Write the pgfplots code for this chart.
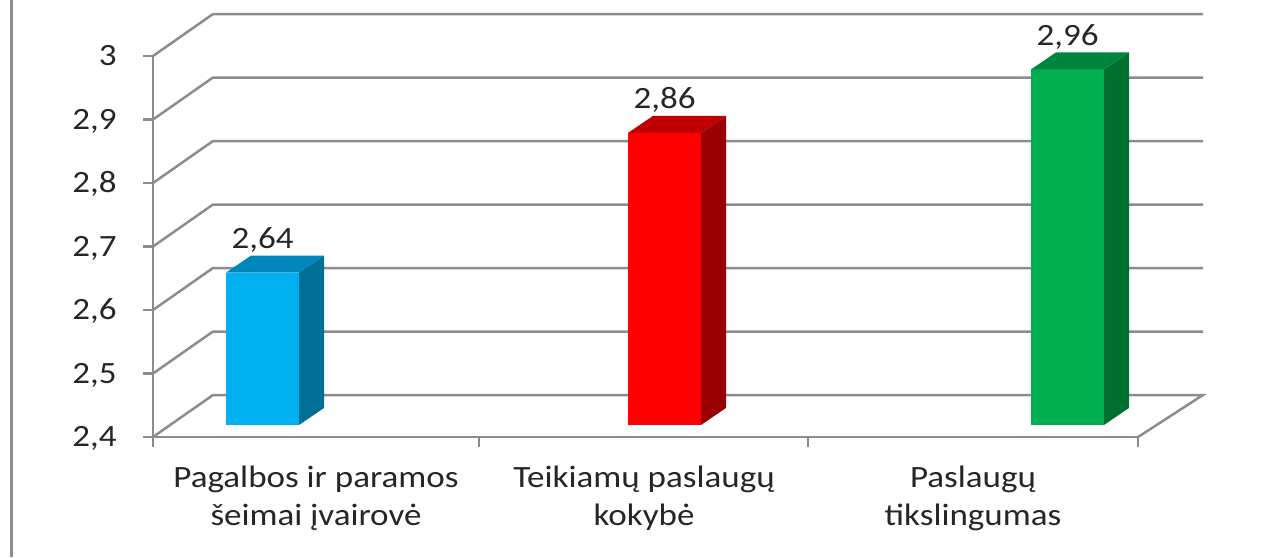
\documentclass[border=0pt]{standalone}
\usepackage{pgfplots}
\pgfplotsset{compat=1.18}
\usepackage{fontspec}
\setmainfont{Carlito}[FakeStretch=1.13]
\definecolor{gridc}{HTML}{8C8C8C}
\definecolor{txt}{HTML}{262626}
\definecolor{bfront}{HTML}{00B0F0}
\definecolor{bside}{HTML}{006F98}
\definecolor{btop}{HTML}{0086B8}
\definecolor{rfront}{HTML}{FF0000}
\definecolor{rside}{HTML}{990000}
\definecolor{rtop}{HTML}{C00000}
\definecolor{gfront}{HTML}{00B050}
\definecolor{gside}{HTML}{007030}
\definecolor{gtop}{HTML}{00863C}
% bar: #1 left x (px), #2 value, #3 front, #4 side, #5 top colour
\newcommand{\cuboid}[5]{%
  \pgfmathsetmacro{\xa}{#1}\pgfmathsetmacro{\xb}{#1+73}%
  \pgfmathsetmacro{\xc}{#1+73+25}\pgfmathsetmacro{\xd}{#1+25}%
  \pgfmathsetmacro{\yb}{2.4+0.0189}\pgfmathsetmacro{\yt}{#2+0.0189}%
  \pgfmathsetmacro{\ybb}{2.4+0.0189+0.0268}\pgfmathsetmacro{\ytb}{#2+0.0189+0.0268}%
  \edef\temp{%
    \noexpand\addplot[fill=#3,draw=none] coordinates {(\xa,\yb) (\xb,\yb) (\xb,\yt) (\xa,\yt)};
    \noexpand\addplot[fill=#4,draw=none] coordinates {(\xb,\yb) (\xc,\ybb) (\xc,\ytb) (\xb,\yt)};
    \noexpand\addplot[fill=#5,draw=none] coordinates {(\xa,\yt) (\xb,\yt) (\xc,\ytb) (\xd,\ytb)};
  }\temp}
\begin{document}
\begin{tikzpicture}
\useasboundingbox (0,0) rectangle (634pt,278.5pt);
\draw[gridc, line width=1.5pt] (5.5pt,0) -- (5.5pt,278.5pt);
\begin{axis}[
  at={(76.5pt,60pt)}, anchor=south west, scale only axis,
  width=492.5pt, height=190.5pt,
  xmin=153, xmax=1138, ymin=2.4, ymax=3,
  axis lines*=left, clip=false,
  axis line style={gridc, line width=1.25pt},
  tick align=outside, major tick length=5pt,
  tick style={gridc, line width=1.25pt},
  /pgf/number format/use comma,
  /pgf/number format/assume math mode=true,
  ytick={2.4,2.5,2.6,2.7,2.8,2.9,3},
  yticklabel style={anchor=base east, inner sep=0pt, xshift=-13pt, yshift=-4.9pt},
  xtick={153,479,808,1138},
  xticklabels={,,,},
  extra x ticks={316,644,973},
  extra x tick labels={Pagalbos ir paramos\\šeimai įvairovė, Teikiamų paslaugų\\kokybė, Paslaugų\\tikslingumas},
  extra x tick style={major tick length=0pt, tick style={draw=none},
    xticklabel style={align=center, anchor=north, inner sep=0pt, yshift=-14.5pt}},
  tick label style={font=\fontsize{15.5}{19}\selectfont, text=txt},
]
% back wall and side wall grid lines
\draw[gridc, line width=1.25pt] (axis cs:153,2.4) -- (axis cs:213,2.46614) -- (axis cs:1203,2.46614) -- (axis cs:1138,2.4);
\draw[gridc, line width=1.25pt] (axis cs:153,2.5) -- (axis cs:213,2.56614) -- (axis cs:1203,2.56614);
\draw[gridc, line width=1.25pt] (axis cs:153,2.6) -- (axis cs:213,2.66614) -- (axis cs:1203,2.66614);
\draw[gridc, line width=1.25pt] (axis cs:153,2.7) -- (axis cs:213,2.76614) -- (axis cs:1203,2.76614);
\draw[gridc, line width=1.25pt] (axis cs:153,2.8) -- (axis cs:213,2.86614) -- (axis cs:1203,2.86614);
\draw[gridc, line width=1.25pt] (axis cs:153,2.9) -- (axis cs:213,2.96614) -- (axis cs:1203,2.96614);
\draw[gridc, line width=1.25pt] (axis cs:153,3.0) -- (axis cs:213,3.06614) -- (axis cs:1203,3.06614);
% bars
\cuboid{226}{2.64}{bfront}{bside}{btop}
\cuboid{628}{2.86}{rfront}{rside}{rtop}
\cuboid{1031}{2.96}{gfront}{gside}{gtop}
% value labels
\addplot[draw=none, nodes near coords, point meta=y,
  nodes near coords style={anchor=base, inner sep=0pt, yshift=18pt, text=txt,
    font=\fontsize{15.5}{19}\selectfont,
    /pgf/number format/fixed, /pgf/number format/precision=2,
    /pgf/number format/zerofill, /pgf/number format/use comma}]
  coordinates {(262.5,2.64) (664.5,2.86) (1067.5,2.96)};
\end{axis}
\end{tikzpicture}
\end{document}
